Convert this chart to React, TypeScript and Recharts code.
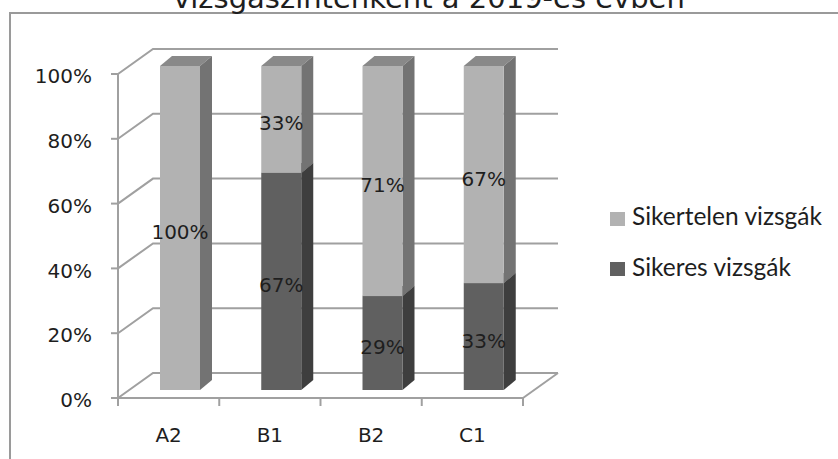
import React from 'react';
import { BarChart, Bar, XAxis, YAxis, CartesianGrid, Legend, LabelList, Customized } from 'recharts';

const categories = ['A2', 'B1', 'B2', 'C1'];
const sikeres = [0, 67, 29, 33];
const sikertelen = [100, 33, 71, 67];
const yTicks = [0, 20, 40, 60, 80, 100];
const seriesNames = ['Sikeres vizsgák', 'Sikertelen vizsgák'];
const titleText = 'vizsgaszintenként a 2019-es évben';

const data = categories.map((c, i) => ({ cat: c, sikeres: sikeres[i], sikertelen: sikertelen[i] }));

const WALL_DX = 35;
const WALL_DY = 25;
const BAR_DX = 11;
const BAR_DY = 8;
const BOX_DX = 12;
const BOX_DY = 10;

const GRID = '#a0a0a0';
const TEXT = '#1e1e1e';
const FONT = '"DejaVu Sans", Verdana, sans-serif';
const LEGEND_FONT = 'Lato, "Open Sans", sans-serif';

const LIGHT = { front: '#b2b2b2', side: '#737373', top: '#898989' };
const DARK = { front: '#606060', side: '#3e3e3e', top: '#4f4f4f' };

const makeBar = (c: { front: string; side: string; top: string }) => (props: any) => {
  const { x, y, width, height } = props;
  if (!height || height <= 0) return <g />;
  const fx = x + BAR_DX;
  const fy = y - BAR_DY;
  return (
    <g>
      <polygon
        points={`${fx},${fy} ${fx + width},${fy} ${fx + width + BOX_DX},${fy - BOX_DY} ${fx + BOX_DX},${fy - BOX_DY}`}
        fill={c.top}
      />
      <polygon
        points={`${fx + width},${fy} ${fx + width + BOX_DX},${fy - BOX_DY} ${fx + width + BOX_DX},${fy + height - BOX_DY} ${fx + width},${fy + height}`}
        fill={c.side}
      />
      <rect x={fx} y={fy} width={width} height={height} fill={c.front} />
    </g>
  );
};

const renderLabel = (props: any) => {
  const { x, y, width, height, value } = props;
  if (!value) return null;
  const cx = x + width / 2 + BAR_DX;
  const cy = y + height / 2 - BAR_DY;
  return (
    <text x={cx} y={cy + 11} textAnchor="middle" fontSize={20} fontFamily={FONT} fill={TEXT}>
      {`${value}%`}
    </text>
  );
};

const gridLine = (p: any) => {
  const { x1, y1, x2 } = p;
  return (
    <path
      key={p.key ?? `g-${y1}`}
      d={`M${x1},${y1} L${x1 + WALL_DX},${y1 - WALL_DY} L${x2 + WALL_DX},${y1 - WALL_DY}`}
      stroke={GRID}
      strokeWidth={2}
      fill="none"
    />
  );
};

const XTick = (p: any) => {
  const { x, y, payload, index, visibleTicksCount } = p;
  const half = payload && payload.offset ? payload.offset : 0;
  const last = index === visibleTicksCount - 1;
  return (
    <g>
      <line x1={x - half} y1={y} x2={x - half} y2={y + 8} stroke={GRID} strokeWidth={2} />
      {last && (
        <g>
          <line x1={x + half} y1={y} x2={x + half} y2={y + 8} stroke={GRID} strokeWidth={2} />
          <line x1={x + half} y1={y} x2={x + half + WALL_DX} y2={y - WALL_DY} stroke={GRID} strokeWidth={2} />
        </g>
      )}
      <text x={x} y={y + 44} textAnchor="middle" fontSize={20} fontFamily={FONT} fill={TEXT}>
        {payload.value}
      </text>
    </g>
  );
};

const YTick = (p: any) => (
  <text x={p.x} y={p.y} dy="0.46em" textAnchor="end" fontSize={20} fontFamily={FONT} fill={TEXT}>
    {`${p.payload.value}%`}
  </text>
);

const LegendContent = (props: any) => {
  const items = [...(props.payload || [])].reverse();
  return (
    <svg width={238} height={90} style={{ display: 'block' }}>
      {items.map((it: any, i: number) => (
        <g key={it.value}>
          <rect x={10} y={17 + i * 50} width={15} height={14} fill={it.color} />
          <text x={32} y={30 + i * 51} fontSize={24.5} fontFamily={LEGEND_FONT} fill={TEXT}>
            {it.value}
          </text>
        </g>
      ))}
    </svg>
  );
};

const Title = () => (
  <text x={429} y={8} textAnchor="middle" fontSize={29} fontFamily={FONT} fill={TEXT}>
    {titleText}
  </text>
);

export default function App() {
  return (
    <div style={{ position: 'absolute', left: 0, top: 0, width: 838, height: 459, overflow: 'hidden', background: '#fff' }}>
      <div
        style={{
          position: 'absolute',
          left: 9,
          top: 12,
          width: 1000,
          height: 1000,
          borderLeft: '2px solid #9a9a9a',
          borderTop: '2px solid #9a9a9a',
        }}
      />
      <div style={{ position: 'absolute', left: 0, top: 0 }}>
        <BarChart width={838} height={459} data={data} margin={{ top: 74, right: 315, bottom: 0, left: 0 }} barSize={40}>
          <CartesianGrid vertical={false} horizontal={gridLine} />
          <XAxis
            dataKey="cat"
            height={61}
            interval={0}
            tickLine={false}
            tickSize={0}
            tickMargin={0}
            axisLine={{ stroke: GRID, strokeWidth: 2 }}
            tick={<XTick />}
          />
          <YAxis
            type="number"
            domain={[0, 100]}
            ticks={yTicks}
            width={118}
            tickSize={7}
            tickMargin={19}
            tickLine={{ stroke: GRID, strokeWidth: 2 }}
            axisLine={{ stroke: GRID, strokeWidth: 2 }}
            tick={<YTick />}
          />
          <Bar dataKey="sikeres" name={seriesNames[0]} stackId="a" fill={DARK.front} shape={makeBar(DARK)} isAnimationActive={false}>
            <LabelList dataKey="sikeres" content={renderLabel} />
          </Bar>
          <Bar dataKey="sikertelen" name={seriesNames[1]} stackId="a" fill={LIGHT.front} shape={makeBar(LIGHT)} isAnimationActive={false}>
            <LabelList dataKey="sikertelen" content={renderLabel} />
          </Bar>
          <Legend
            layout="horizontal"
            verticalAlign="middle"
            align="center"
            content={<LegendContent />}
            wrapperStyle={{ left: 600, top: 195, width: 238, height: 90 }}
          />
          <Customized component={Title} />
        </BarChart>
      </div>
    </div>
  );
}
